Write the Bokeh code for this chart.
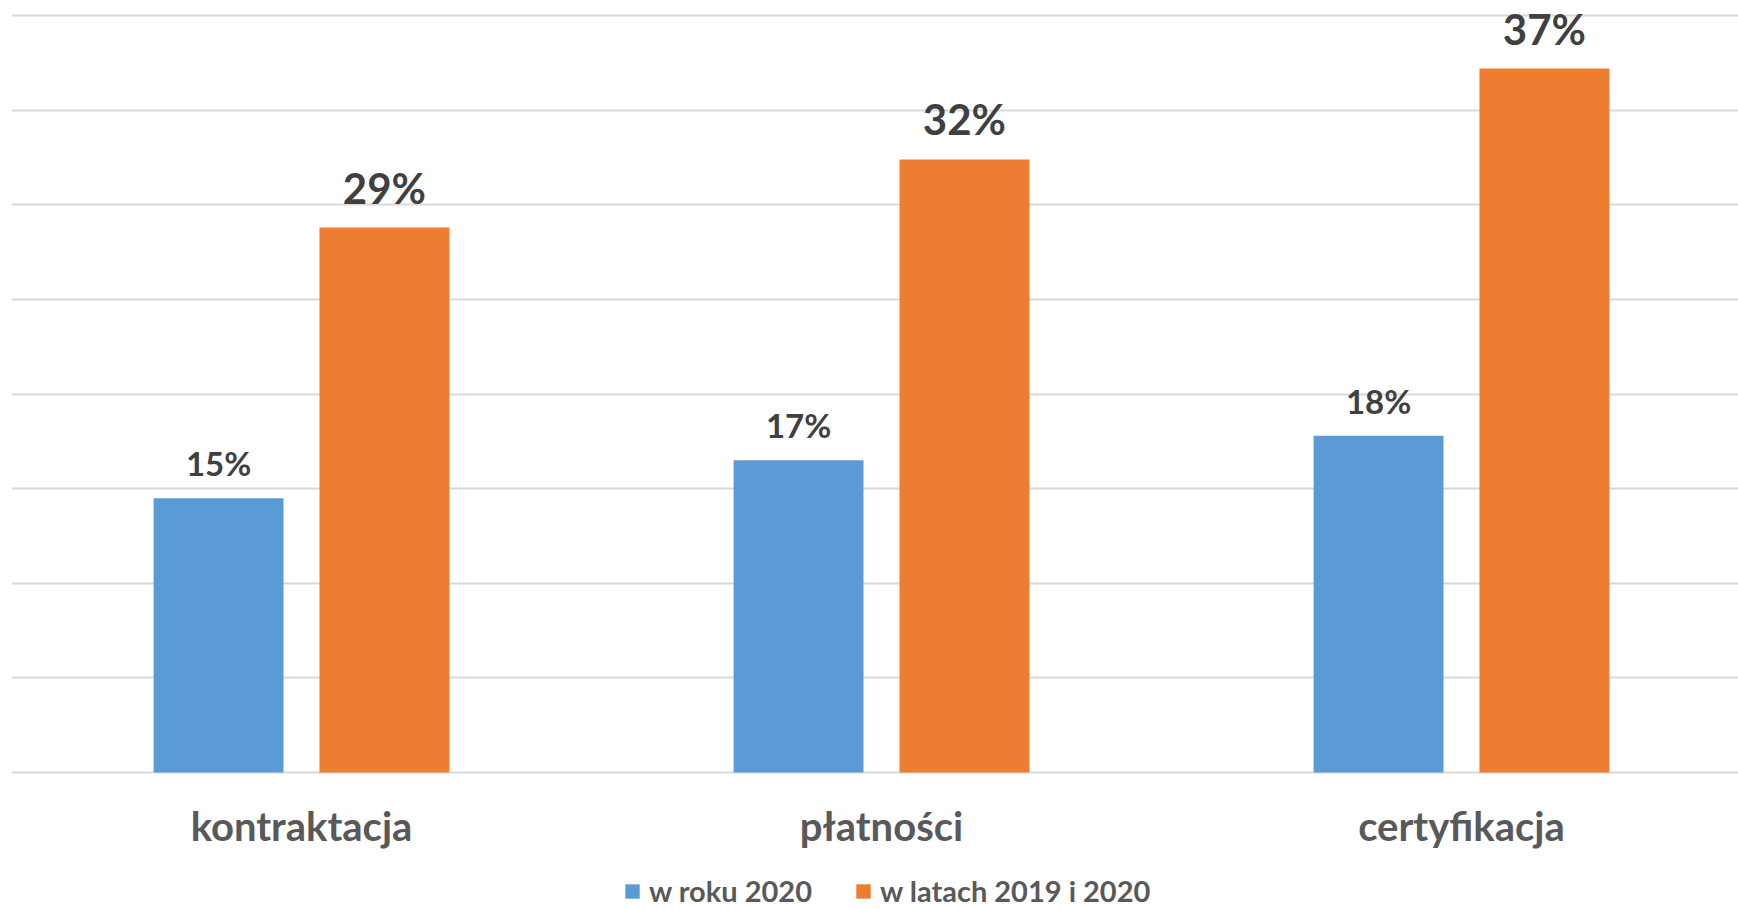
from bokeh.plotting import figure
from bokeh.models import (Range1d, FixedTicker, ColumnDataSource, LabelSet,
                          Legend, LegendItem)
from bokeh.core.properties import value
from bokeh.embed import file_html
from bokeh.resources import INLINE

categories = ["kontraktacja", "płatności", "certyfikacja"]
series_names = ["w roku 2020", "w latach 2019 i 2020"]
values_2020 = [14.5, 16.5, 17.8]
values_2019_2020 = [28.8, 32.4, 37.2]
labels_2020 = ["15%", "17%", "18%"]
labels_2019_2020 = ["29%", "32%", "37%"]
grid_ticks = [0, 5, 10, 15, 20, 25, 30, 35, 40]

BLUE = "#5B9BD5"
ORANGE = "#ED7D31"
FONT = "Lato"

idx = list(range(len(categories)))
off = 0.143
bw = 0.224

src_a = ColumnDataSource(dict(x=[i - off for i in idx], top=values_2020, lab=labels_2020))
src_b = ColumnDataSource(dict(x=[i + off for i in idx], top=values_2019_2020, lab=labels_2019_2020))
src_c = ColumnDataSource(dict(x=idx, y=[0] * len(idx), lab=categories))

p = figure(width=1738, height=909, output_backend="svg", toolbar_location=None,
           x_range=Range1d(-0.5, 2.4776), y_range=Range1d(-7.24, 40.8),
           min_border_left=11, min_border_right=0, min_border_top=0, min_border_bottom=0)
p.outline_line_color = None
p.background_fill_color = "white"
p.border_fill_color = "white"
p.xaxis.visible = False
p.yaxis.visible = False

r1 = p.vbar(x="x", top="top", width=bw, bottom=0, source=src_a, color=BLUE, line_color=None)
r2 = p.vbar(x="x", top="top", width=bw, bottom=0, source=src_b, color=ORANGE, line_color=None)

p.xgrid.visible = False
p.ygrid.ticker = FixedTicker(ticks=grid_ticks)
p.ygrid.grid_line_color = "#D9D9D9"
p.ygrid.grid_line_width = 2

# category labels under the baseline
lc = LabelSet(x="x", y="y", text="lab", source=src_c, y_offset=-68,
              text_align="center", text_baseline="alphabetic",
              text_font=value(FONT), text_font_style="bold", text_font_size="40px",
              text_color="#595959")
la = LabelSet(x="x", y="top", text="lab", source=src_a, y_offset=22,
              text_align="center", text_baseline="alphabetic",
              text_font=value(FONT), text_font_style="bold", text_font_size="33px",
              text_color="#404040")
lb = LabelSet(x="x", y="top", text="lab", source=src_b, y_offset=24,
              text_align="center", text_baseline="alphabetic",
              text_font=value(FONT), text_font_style="bold", text_font_size="42px",
              text_color="#404040")
p.add_layout(lc)
p.add_layout(la)
p.add_layout(lb)

legend = Legend(items=[LegendItem(label=series_names[0], renderers=[r1]),
                       LegendItem(label=series_names[1], renderers=[r2])],
                orientation="horizontal", location=(612, 1),
                glyph_width=18, glyph_height=18, label_standoff=8, spacing=42,
                label_text_font=FONT, label_text_font_style="bold",
                label_text_font_size="29px", label_text_color="#595959",
                border_line_color=None, background_fill_alpha=0,
                padding=0, margin=0)
p.add_layout(legend, "center")

open("out.html", "w").write(file_html(p, INLINE))
